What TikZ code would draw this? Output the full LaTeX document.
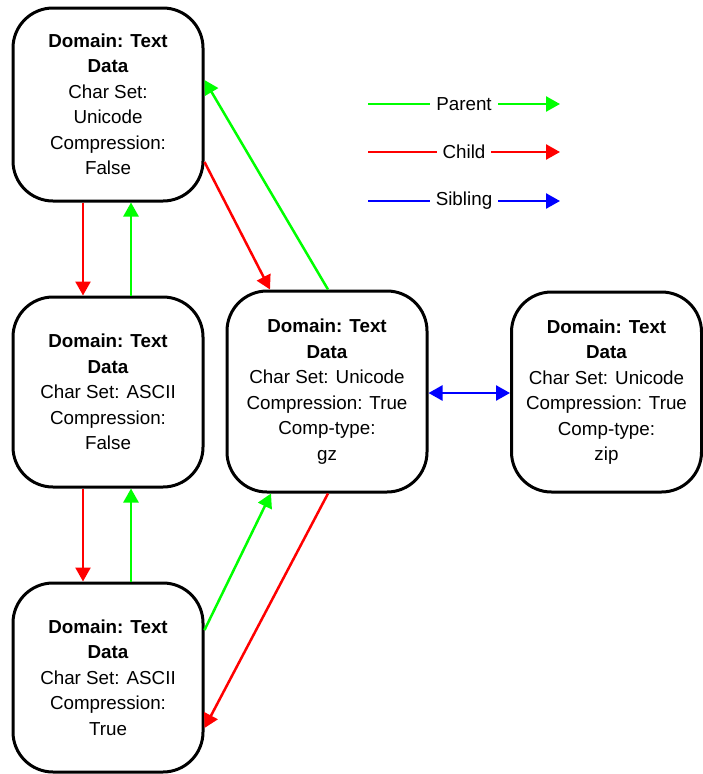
\documentclass[tikz,border=0pt]{standalone}
\usepackage{fontspec}
\setmainfont{Liberation Sans}
\usetikzlibrary{arrows.meta,calc}
\definecolor{pgreen}{RGB}{0,255,0}
\definecolor{cred}{RGB}{255,0,0}
\definecolor{sblue}{RGB}{0,0,255}
\begin{document}
\begin{tikzpicture}[x=1pt,y=-1pt,
  box/.style={draw=black,line width=3pt,rounded corners=40pt,fill=white,
    align=center,inner sep=0pt,font=\fontsize{18.8}{25.5}\selectfont},
  link/.style={line width=2.5pt,-{Triangle[length=14pt,width=15pt]}},
  parentlink/.style={link,draw=pgreen,fill=pgreen},
  childlink/.style={link,draw=cred,fill=cred},
  siblink/.style={line width=2.5pt,{Triangle[length=14pt,width=15pt]}-{Triangle[length=14pt,width=15pt]},draw=sblue,fill=sblue},
  legendlabel/.style={fill=white,draw=none,inner xsep=6pt,inner ysep=2pt,text=black,
    font=\fontsize{18.8}{22}\selectfont}
]
\useasboundingbox (0,0) rectangle (703,774);

% the five data-type boxes
\node[box,minimum width=190pt,minimum height=193pt] (b1) at (108,104.5)
  {\textbf{Domain: Text}\\\textbf{Data}\\Char Set:\\Unicode\\Compression:\\False};
\node[box,minimum width=190pt,minimum height=190pt] (b2) at (108,392)
  {\textbf{Domain: Text}\\\textbf{Data}\\Char Set: ASCII\\Compression:\\False};
\node[box,minimum width=190pt,minimum height=189pt] (b3) at (108,677.5)
  {\textbf{Domain: Text}\\\textbf{Data}\\Char Set: ASCII\\Compression:\\True};
\node[box,minimum width=200pt,minimum height=201pt] (b4) at (327,391.5)
  {\textbf{Domain: Text}\\\textbf{Data}\\Char Set: Unicode\\Compression: True\\Comp-type:\\gz};
\node[box,minimum width=190pt,minimum height=200pt] (b5) at (606.5,392)
  {\textbf{Domain: Text}\\\textbf{Data}\\Char Set: Unicode\\Compression: True\\Comp-type:\\zip};

% vertical links in the left column
\draw[childlink]  ([xshift=-25pt]b1.south) -- ([xshift=-25pt]b2.north);
\draw[parentlink] ([xshift=23pt]b2.north) -- ([xshift=23pt]b1.south);
\draw[childlink]  ([xshift=-25pt]b2.south) -- ([xshift=-25pt]b3.north);
\draw[parentlink] ([xshift=23pt]b3.north) -- ([xshift=23pt]b2.south);

% diagonal links to the gz box
\draw[childlink]  ($(b1.east)+(0,57.5)$) -- ($(b4.north)+(-57,0)$);
\draw[parentlink] ($(b4.north)+(1,0)$) -- ($(b1.east)+(0,-24.5)$);
\draw[parentlink] ($(b3.east)+(0,-47.5)$) -- ($(b4.south)+(-56,0)$);
\draw[childlink]  ($(b4.south)+(1,0)$) -- ($(b3.east)+(0,50.5)$);

% sibling link
\draw[siblink] ($(b4.east)+(0,1.5)$) -- ($(b5.west)+(0,1)$);

% legend
\coordinate (lpa) at (368,104);  \coordinate (lpb) at (560,104);
\coordinate (lca) at (368,152);  \coordinate (lcb) at (560,152);
\coordinate (lsa) at (368,201);  \coordinate (lsb) at (560,201);
\draw[parentlink] (lpa) -- node[legendlabel] {Parent} (lpb);
\draw[childlink]  (lca) -- node[legendlabel] {Child} (lcb);
\draw[link,draw=sblue,fill=sblue] (lsa) -- node[legendlabel] {Sibling} (lsb);
\end{tikzpicture}
\end{document}
